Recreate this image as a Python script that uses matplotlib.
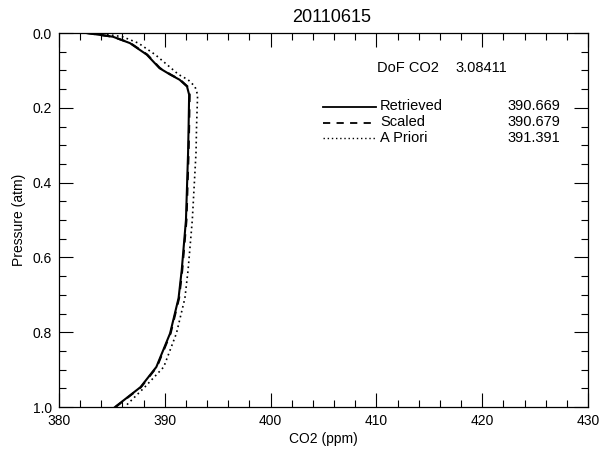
import matplotlib
matplotlib.use("Agg")
import matplotlib.pyplot as plt
from matplotlib.lines import Line2D
from matplotlib.ticker import MultipleLocator

plt.rcParams['font.family'] = ['Liberation Sans', 'DejaVu Sans']

# Pressure levels (atm) and CO2 profiles (ppm)
pressure = [0.0, 0.01, 0.027, 0.058, 0.094, 0.111, 0.125, 0.143, 0.165,
            0.25, 0.32, 0.5, 0.634, 0.709, 0.803, 0.893, 0.947, 1.0]
retrieved = [382.6, 385.1, 386.7, 388.3, 389.5, 390.5, 391.4, 392.1, 392.3,
             392.25, 392.2, 392.0, 391.6, 391.3, 390.5, 389.2, 387.7, 385.3]
scaled = [382.6, 385.1, 386.75, 388.35, 389.55, 390.55, 391.45, 392.15, 392.35,
          392.3, 392.25, 392.05, 391.65, 391.35, 390.55, 389.25, 387.75, 385.35]
apriori = [383.6, 386.0, 387.5, 389.1, 390.6, 391.3, 392.2, 392.85, 393.1,
           393.0, 392.95, 392.6, 392.2, 391.9, 391.1, 389.9, 388.1, 386.2]

title = "20110615"
dof_label = "DoF CO2"
dof_value = "3.08411"
legend_names = ["Retrieved", "Scaled", "A Priori"]
legend_values = ["390.669", "390.679", "391.391"]
legend_styles = ["-", (0, (4, 3.5)), (0, (1, 2))]

W, H = 601, 451
fig = plt.figure(figsize=(W / 100, H / 100), dpi=100)
ax = fig.add_axes([59 / W, 1 - 407 / H, 529 / W, 374 / H])

ax.plot(apriori, pressure, color="black", lw=1.2, linestyle=(0, (1, 2)))
ax.plot(scaled, pressure, color="black", lw=1.5, linestyle=(0, (4, 3.5)))
ax.plot(retrieved, pressure, color="black", lw=1.5, linestyle="-")

ax.set_xlim(380, 430)
ax.set_ylim(1.0, 0.0)
ax.xaxis.set_major_locator(MultipleLocator(10))
ax.xaxis.set_minor_locator(MultipleLocator(2))
ax.yaxis.set_major_locator(MultipleLocator(0.2))
ax.yaxis.set_minor_locator(MultipleLocator(0.05))
ax.yaxis.set_major_formatter(plt.FuncFormatter(lambda v, _: f"{v:.1f}"))
ax.tick_params(which="both", direction="in", top=True, right=True,
               width=0.8, labelsize=10, colors="black")
ax.tick_params(which="major", length=10, pad=5)
ax.tick_params(which="minor", length=5)
for s in ax.spines.values():
    s.set_linewidth(0.9)

ax.set_xlabel("CO2 (ppm)", fontsize=10, labelpad=3)
ax.set_ylabel("Pressure (atm)", fontsize=10, labelpad=5)

fig.text(332 / W, 1 - 17 / H, title, ha="center", va="center", fontsize=13)

# Annotation block in figure pixel coordinates
def fx(x):
    return x / W

def fy(y):
    return 1 - y / H

fig.text(fx(377), fy(68), dof_label, ha="left", va="center", fontsize=10.5)
fig.text(fx(455), fy(68), dof_value, ha="left", va="center", fontsize=10.5)

rows_y = [106.5, 122.5, 137.5]
for name, val, ls, y in zip(legend_names, legend_values, legend_styles, rows_y):
    fig.add_artist(Line2D([fx(323), fx(376)], [fy(y), fy(y)], color="black",
                          lw=1.3 if ls != (0, (1, 2)) else 1.0, linestyle=ls))
    fig.text(fx(380), fy(y), name, ha="left", va="center", fontsize=10.5)
    fig.text(fx(560), fy(y), val, ha="right", va="center", fontsize=10.5)

fig.savefig("out.png", dpi=100)
